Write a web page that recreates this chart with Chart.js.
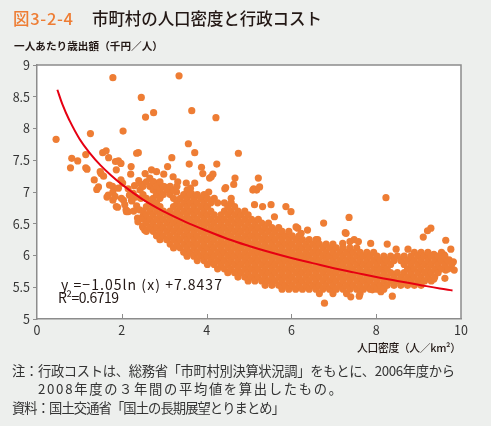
<!DOCTYPE html>
<html lang="ja">
<head>
<meta charset="UTF-8">
<title>市町村の人口密度と行政コスト</title>
<script src="https://cdn.jsdelivr.net/npm/chart.js"></script>
<style>
  html, body { margin: 0; padding: 0; background: #edefed; }
  .wrap { position: relative; width: 491px; height: 426px; }
</style>
</head>
<body>
<div class="wrap"><canvas id="costChart" width="491" height="426"></canvas></div>
<script>
// --- values: population density (x100 /km2) vs expenditure per person ---

// sparse municipalities at low density, [x, y]
const sparseLow = [
  [0.45,7.83],[0.82,7.53],[0.96,7.49],[0.79,7.38],[1.15,7.59],[1.15,7.38],[1.18,7.36],[1.26,7.92],
  [1.35,7.19],[1.41,7.04],[1.45,7.08],[1.49,7.32],[1.51,7.29],[1.55,7.62],[1.57,7.25],[1.63,7.65],
  [1.65,6.92],[1.68,6.95],[1.69,7.54],[1.71,7.11],[1.78,7.09],[1.79,7.0],[1.79,6.87],[1.85,7.48],
  [1.87,7.35],[1.87,6.77],[1.90,6.76],[1.92,7.49],[1.92,7.06],[1.98,7.45],[1.98,7.19],[2.02,7.14],
  [2.04,6.87],[2.10,6.72],[2.11,6.69],[2.21,7.28],[2.22,7.40],[2.24,6.86],[2.27,6.98],[2.35,7.61],
  [2.35,6.78],[2.37,6.59],[2.38,6.53],[2.39,7.62],[2.43,7.03],[2.49,6.46],[2.54,6.40],[2.55,7.29],
  [2.30,7.10],[2.40,7.18],[2.15,7.05],[2.45,6.90],[2.28,6.70],[2.50,6.62],[2.18,6.95],[2.33,6.92],
  [2.46,7.12],[1.84,6.93],[1.99,6.90],[2.07,6.80],[2.23,6.87],[2.15,6.69],[2.42,6.72],[2.58,6.56],
  [2.70,6.45],[2.82,6.32]
];

// points standing clear of the main cloud, [x, y]
const outliers = [
  [1.79,8.80],[2.03,7.96],[2.46,8.49],[2.56,8.18],[2.75,8.25],[3.35,8.83],[3.65,8.28],[4.22,8.17],
  [3.57,7.76],[3.72,7.62],[4.75,7.61],[3.18,7.54],[3.08,7.40],[3.59,7.44],[4.24,7.44],[3.88,7.39],
  [4.67,7.22],[5.22,7.22],[5.25,7.08],[4.64,7.12],[4.43,7.05],[3.91,7.29],[4.11,7.24],[4.15,7.28],
  [4.07,7.22],[3.52,7.14],[3.72,7.14],[3.62,7.06],[4.05,7.0],[5.11,7.05],[5.18,7.03],[4.45,7.07],
  [2.70,7.35],[2.82,7.32],[2.99,7.28],[3.21,7.24],[3.32,7.16],[2.75,7.16],[3.01,7.08],[2.88,7.03],
  [3.17,7.03],[3.29,7.0],[3.64,6.98],[4.58,6.90],[5.09,7.03],[5.13,6.80],[5.32,6.77],[5.52,6.80],
  [5.87,6.77],[5.99,6.69],[5.60,6.61],[6.15,6.43],[6.38,6.40],[6.62,6.25],[6.11,6.45],[6.23,6.35],
  [8.23,6.91],[7.36,6.60],[6.76,6.51],[7.27,6.36],[7.29,6.35],[7.21,6.19],[7.48,6.25],[7.58,6.22],
  [7.38,6.22],[7.87,6.19],[8.26,6.18],[8.47,6.10],[8.75,6.10],[9.29,6.43],[9.21,6.39],[9.11,6.29],
  [9.64,6.24],[9.76,6.10],[9.36,6.02],[9.60,6.01],[9.72,5.93],[9.82,5.90],[9.84,5.77],[9.64,5.77],
  [9.44,5.77],[9.36,5.63],[9.62,5.64],[6.78,5.25],[7.40,5.35],[7.60,5.36],[7.91,5.46],[8.11,5.43],
  [8.38,5.36]
];

// main cloud, one entry per column: [x, [y values]]
const cloudA = [
  [2.50,[6.44,6.57,6.70,6.96,7.09]],
  [2.58,[6.38,6.51,6.64,6.77,6.90,7.16]],
  [2.66,[6.44,6.57,6.70,6.83,7.09,7.22]],
  [2.74,[6.38,6.51,6.64,6.77,6.90,7.03,7.16]],
  [2.82,[6.31,6.44,6.57,6.70,6.83,6.96,7.09]],
  [2.90,[6.25,6.38,6.51,6.64,6.77,6.90,7.03,7.16]],
  [2.98,[6.31,6.44,6.57,6.70,6.96,7.09]],
  [3.06,[6.25,6.38,6.51,6.64,7.03]],
  [3.14,[6.18,6.31,6.44,6.57,6.70,6.96,7.09]],
  [3.22,[6.12,6.25,6.38,6.51,6.64,6.77,6.90,7.03]],
  [3.30,[6.18,6.31,6.44,6.57,6.70,6.83,7.09]],
  [3.38,[6.12,6.25,6.38,6.51,6.64,6.77,6.90]],
  [3.46,[6.05,6.18,6.31,6.44,6.57,6.70,6.83,6.96]],
  [3.54,[5.99,6.12,6.25,6.38,6.51,6.64,6.77,6.90,7.03]]
];

const cloudB = [
  [3.62,[6.05,6.18,6.31,6.44,6.57,6.70,6.83,6.96]],
  [3.70,[5.99,6.12,6.25,6.38,6.51,6.64,6.77,6.90]],
  [3.78,[5.92,6.05,6.18,6.31,6.44,6.57,6.70,6.83,6.96]],
  [3.86,[5.99,6.12,6.25,6.38,6.51,6.64,6.77,6.90]],
  [3.94,[5.92,6.05,6.18,6.31,6.44,6.57,6.70,6.83,6.96]],
  [4.02,[5.86,5.99,6.12,6.25,6.38,6.51,6.64,6.77,6.90]],
  [4.10,[5.92,6.05,6.18,6.31,6.44,6.57,6.70,6.83]],
  [4.18,[5.86,5.99,6.12,6.25,6.38,6.51,6.64,6.90]],
  [4.26,[5.79,5.92,6.05,6.18,6.31,6.44,6.57,6.83]],
  [4.34,[5.86,5.99,6.12,6.25,6.38,6.51,6.64]],
  [4.42,[5.79,5.92,6.05,6.18,6.31,6.44,6.57,6.70,6.83]],
  [4.50,[5.73,5.86,5.99,6.12,6.25,6.38,6.51,6.64,6.77]],
  [4.58,[5.79,5.92,6.05,6.18,6.31,6.44,6.57,6.70,6.83]],
  [4.66,[5.73,5.86,5.99,6.12,6.25,6.38,6.51,6.64,6.77]],
  [4.74,[5.66,5.79,5.92,6.05,6.18,6.31,6.44,6.57,6.70]],
  [4.82,[5.73,5.86,5.99,6.12,6.25,6.38,6.51,6.64]],
  [4.90,[5.66,5.79,5.92,6.05,6.18,6.31,6.44,6.57,6.70]],
  [4.98,[5.60,5.73,5.86,5.99,6.12,6.25,6.38,6.51,6.64]]
];

const cloudC = [
  [5.06,[5.66,5.79,5.92,6.05,6.18,6.31,6.44,6.57]],
  [5.14,[5.60,5.73,5.86,5.99,6.12,6.25,6.38,6.51]],
  [5.22,[5.66,5.79,5.92,6.05,6.18,6.31,6.44,6.57]],
  [5.30,[5.60,5.73,5.86,5.99,6.12,6.25,6.38,6.51]],
  [5.38,[5.53,5.66,5.79,5.92,6.05,6.18,6.31,6.44]],
  [5.46,[5.60,5.73,5.86,5.99,6.12,6.25,6.38,6.51]],
  [5.54,[5.53,5.66,5.79,5.92,6.05,6.18,6.31,6.44]],
  [5.62,[5.60,5.73,5.86,5.99,6.12,6.25,6.38]],
  [5.70,[5.53,5.66,5.79,5.92,6.05,6.18,6.31,6.44]],
  [5.78,[5.47,5.60,5.73,5.86,5.99,6.12,6.25,6.38]],
  [5.86,[5.53,5.66,5.79,5.92,6.05,6.18,6.31]],
  [5.94,[5.47,5.60,5.73,5.86,5.99,6.12,6.25,6.38]],
  [6.02,[5.53,5.66,5.79,5.92,6.05,6.18,6.31]],
  [6.10,[5.47,5.60,5.73,5.86,5.99,6.12,6.25]],
  [6.18,[5.53,5.66,5.79,5.92,6.05,6.18,6.31]],
  [6.26,[5.47,5.60,5.73,5.86,5.99,6.12,6.25]],
  [6.34,[5.53,5.66,5.79,5.92,6.05,6.18]],
  [6.42,[5.47,5.60,5.73,5.86,5.99,6.12,6.25]],
  [6.50,[5.53,5.66,5.79,5.92,6.05,6.18]],
  [6.58,[5.47,5.60,5.73,5.86,5.99,6.12,6.25]],
  [6.66,[5.40,5.53,5.66,5.79,5.92,6.05,6.18]],
  [6.74,[5.47,5.60,5.73,5.86,5.99,6.12]],
  [6.82,[5.53,5.66,5.79,5.92,6.05,6.18]],
  [6.90,[5.47,5.60,5.73,5.86,5.99,6.12]],
  [6.98,[5.40,5.53,5.66,5.79,5.92,6.05,6.18]]
];

const cloudD = [
  [7.06,[5.47,5.60,5.73,5.86,5.99,6.12]],
  [7.14,[5.53,5.66,5.79,5.92,6.05]],
  [7.22,[5.47,5.60,5.73,5.86,5.99,6.12]],
  [7.30,[5.40,5.53,5.66,5.79,5.92,6.05]],
  [7.38,[5.47,5.60,5.73,5.86,5.99,6.12]],
  [7.46,[5.53,5.66,5.79,5.92,6.05]],
  [7.54,[5.47,5.60,5.73,5.86,5.99,6.12]],
  [7.62,[5.40,5.53,5.66,5.79,5.92,6.05]],
  [7.70,[5.47,5.60,5.73,5.86,5.99]],
  [7.78,[5.53,5.66,5.79,5.92,6.05]],
  [7.86,[5.47,5.60,5.73,5.86,5.99]],
  [7.94,[5.53,5.66,5.79,5.92,6.05]],
  [8.02,[5.47,5.60,5.73,5.86,5.99]],
  [8.10,[5.53,5.66,5.79,5.92]],
  [8.18,[5.47,5.60,5.73,5.86,5.99]],
  [8.26,[5.53,5.66,5.79,5.92]],
  [8.34,[5.60,5.73,5.86,5.99]],
  [8.42,[5.53,5.66,5.92]],
  [8.50,[5.60,5.73,5.99]],
  [8.58,[5.53,5.66,5.92]],
  [8.66,[5.60,5.73,5.86,5.99]],
  [8.74,[5.53,5.66,5.79,5.92]],
  [8.82,[5.60,5.73,5.86,5.99]],
  [8.90,[5.53,5.66,5.79,5.92,6.05]],
  [8.98,[5.60,5.73,5.86,5.99]],
  [9.06,[5.53,5.66,5.79,5.92,6.05]],
  [9.14,[5.60,5.73,5.86,5.99]],
  [9.22,[5.66,5.79,5.92,6.05]],
  [9.30,[5.60,5.73,5.86,5.99]],
  [9.38,[5.66,5.79,5.92]],
  [9.46,[5.73,5.86,5.99]],
  [9.54,[5.79,5.92,6.05]],
  [9.62,[5.86,5.99]],
  [9.70,[5.79,5.92]],
  [9.78,[5.86]]
];

// fitted curve y = -1.05 ln(x) + 7.8437, read at these densities
const trendX = [0.48, 0.6, 0.75, 1.0, 1.25, 1.5, 1.75, 2.0, 2.5, 3.0, 3.5, 4.0, 4.5, 5.0,
                5.5, 6.0, 6.5, 7.0, 7.5, 8.0, 8.5, 9.0, 9.5, 9.8];
const trendY = [8.61, 8.38, 8.15, 7.84, 7.61, 7.42, 7.26, 7.12, 6.88, 6.69, 6.53, 6.39, 6.26, 6.15,
                6.05, 5.96, 5.88, 5.80, 5.73, 5.66, 5.60, 5.54, 5.48, 5.45];

const yTicks = [5, 5.5, 6, 6.5, 7, 7.5, 8, 8.5, 9];
const xTicks = [0, 2, 4, 6, 8, 10];

const JP = '"Noto Sans CJK JP", "Noto Sans", sans-serif';
const ORANGE = '#ee7d34';
const AXIS_GREY = '#8c8c8c';

const columnPoints = [].concat(cloudA, cloudB, cloudC, cloudD)
  .flatMap(col => col[1].map(y => ({ x: col[0], y: y })));
const allPoints = [].concat(sparseLow, outliers)
  .map(p => ({ x: p[0], y: p[1] }))
  .concat(columnPoints);
const trendPoints = trendX.map((x, i) => ({ x: x, y: trendY[i] }));

// draw text stretched (letter-spacing) to the width it has in the figure
function fitText(ctx, text, x, y, width) {
  ctx.letterSpacing = '0px';
  const w = ctx.measureText(text).width;
  const n = [...text].length;
  if (n > 1) ctx.letterSpacing = ((width - w) / (n - 1)).toFixed(2) + 'px';
  ctx.fillText(text, x, y);
  ctx.letterSpacing = '0px';
}

// white plot area + frame, texts and inward x ticks
const decor = {
  id: 'decor',
  beforeDraw(chart) {
    const { ctx, chartArea: a } = chart;
    ctx.save();
    ctx.fillStyle = '#ffffff';
    ctx.fillRect(a.left, a.top, a.right - a.left, a.bottom - a.top);
    ctx.restore();
  },
  afterDraw(chart) {
    const { ctx, chartArea: a } = chart;
    const xs = chart.scales.x;
    ctx.save();

    // top / right frame
    ctx.strokeStyle = AXIS_GREY;
    ctx.lineWidth = 1.5;
    ctx.beginPath();
    ctx.moveTo(a.left, a.top);
    ctx.lineTo(a.right, a.top);
    ctx.lineTo(a.right, a.bottom);
    ctx.stroke();

    // x ticks point into the plot
    ctx.lineWidth = 1;
    [2, 4, 6, 8].forEach(v => {
      const px = Math.round(xs.getPixelForValue(v)) + 0.5;
      ctx.beginPath();
      ctx.moveTo(px, a.bottom);
      ctx.lineTo(px, a.bottom - 5);
      ctx.stroke();
    });

    ctx.textBaseline = 'middle';
    ctx.textAlign = 'left';

    // title
    ctx.font = '500 16.5px ' + JP;
    ctx.fillStyle = ORANGE;
    fitText(ctx, '図3-2-4', 13, 19, 60);
    ctx.fillStyle = '#231815';
    fitText(ctx, '市町村の人口密度と行政コスト', 92, 19, 230);

    // axis titles
    ctx.font = '600 10.6px ' + JP;
    fitText(ctx, '一人あたり歳出額（千円／人）', 14, 46, 149);
    ctx.font = '500 10.8px ' + JP;
    fitText(ctx, '人口密度（人／km²）', 357, 348, 104);

    // regression note
    ctx.font = '400 14px ' + JP;
    fitText(ctx, 'y =−1.05ln (x) +7.8437', 61, 285, 161);
    fitText(ctx, 'R²=0.6719', 58, 298, 61);

    // footnotes
    ctx.font = '400 13.3px ' + JP;
    ctx.fillStyle = '#333333';
    fitText(ctx, '注：行政コストは、総務省「市町村別決算状況調」をもとに、2006年度から', 12, 371, 443);
    fitText(ctx, '2008年度の３年間の平均値を算出したもの。', 38, 389, 304);
    fitText(ctx, '資料：国土交通省「国土の長期展望とりまとめ」', 12, 408, 273);

    ctx.restore();
  }
};

new Chart(document.getElementById('costChart'), {
  data: {
    datasets: [
      {
        type: 'line',
        data: trendPoints,
        borderColor: '#e60012',
        borderWidth: 2,
        pointRadius: 0,
        tension: 0.4,
        fill: false,
        order: 0
      },
      {
        type: 'scatter',
        data: allPoints,
        backgroundColor: ORANGE,
        borderWidth: 0,
        pointRadius: 3.6,
        pointHoverRadius: 3.6,
        order: 1
      }
    ]
  },
  options: {
    responsive: false,
    devicePixelRatio: 1,
    animation: false,
    events: [],
    layout: { padding: { top: 65, right: 30, left: 0, bottom: 0 } },
    plugins: { legend: { display: false }, tooltip: { enabled: false } },
    scales: {
      x: {
        type: 'linear',
        min: 0,
        max: 10,
        afterBuildTicks: s => { s.ticks = xTicks.map(v => ({ value: v })); },
        afterFit: s => { s.height = 107; },
        grid: { drawOnChartArea: false, drawTicks: false },
        border: { color: AXIS_GREY, width: 1.5 },
        ticks: { color: '#333', padding: 4, font: { family: JP, size: 12.5 }, callback: v => String(v) }
      },
      y: {
        type: 'linear',
        min: 5,
        max: 9,
        afterBuildTicks: s => { s.ticks = yTicks.map(v => ({ value: v })); },
        afterFit: s => { s.width = 37; },
        grid: { drawOnChartArea: false, tickLength: 4, color: AXIS_GREY },
        border: { color: AXIS_GREY, width: 1.5 },
        ticks: { color: '#333', padding: 3, font: { family: JP, size: 12.5 }, callback: v => String(v) }
      }
    }
  },
  plugins: [decor]
});
</script>
</body>
</html>
